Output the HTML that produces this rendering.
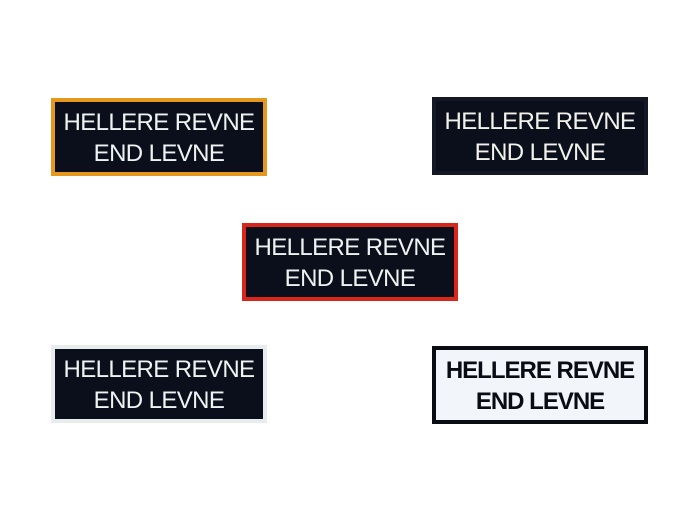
<!DOCTYPE html>
<html><head><style>
html,body{margin:0;padding:0;width:700px;height:525px;background:#fff;overflow:hidden;position:relative}
.p{position:absolute;box-sizing:border-box;width:216px;height:78px;background:#0b0f1c;border:4px solid #e89a1c;font-family:"Liberation Sans",sans-serif;color:#eef2f0;font-size:24px;line-height:31px;text-align:center;padding-top:5px;letter-spacing:-0.6px;white-space:nowrap}
</style></head><body>
<div class="p" style="left:51px;top:98px;border-color:#e4981e">HELLERE REVNE<br>END LEVNE</div>
<div class="p" style="left:432px;top:97px;border-color:#141826;color:#f2f2ea">HELLERE REVNE<br>END LEVNE</div>
<div class="p" style="left:242px;top:223px;border-color:#d8261c">HELLERE REVNE<br>END LEVNE</div>
<div class="p" style="left:51px;top:345px;border-color:#e8ecec">HELLERE REVNE<br>END LEVNE</div>
<div class="p" style="left:432px;top:346px;border-color:#0a0c14;background:#f2f5fa;color:#0a0c14;font-weight:bold;letter-spacing:-1px">HELLERE REVNE<br>END LEVNE</div>
</body></html>
